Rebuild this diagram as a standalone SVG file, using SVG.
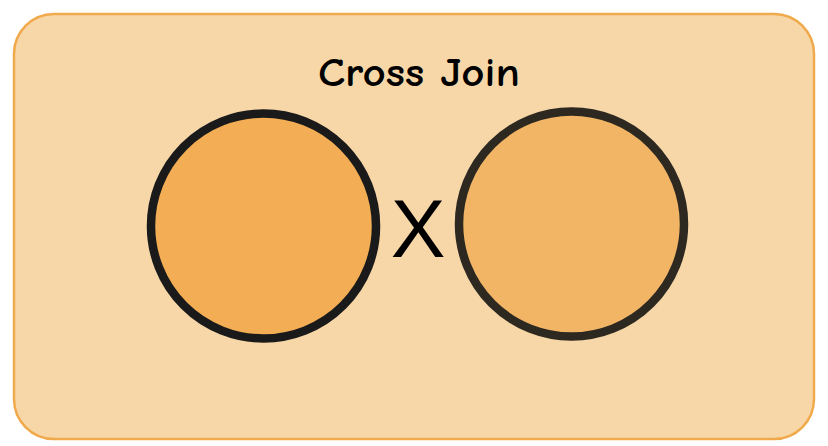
<svg xmlns="http://www.w3.org/2000/svg" width="828" height="446" viewBox="0 0 828 446">
<style>
.title{font-family:"Comic Sans MS","Comic Neue","DejaVu Sans",sans-serif;font-size:41px;font-weight:bold;fill:#000;text-anchor:middle}
.op{font-family:"Liberation Sans",Arial,sans-serif;font-size:82px;fill:#000;text-anchor:middle}
</style>
<rect width="828" height="446" fill="#fff"/>
<g id="container">
<rect x="14" y="14" width="800" height="425" rx="40" ry="40" fill="#F7D7A8" stroke="#F0AA4C" stroke-width="2.5"/>
<text class="title" x="419" y="86" textLength="202" lengthAdjust="spacingAndGlyphs">Cross Join</text>
</g>
<g id="left">
<circle cx="263.5" cy="226" r="112.5" fill="#F2AD55" stroke="#1A1A1A" stroke-width="8.5"/>
</g>
<g id="op">
<text class="op" x="418" y="257">X</text>
</g>
<g id="right">
<circle cx="571.5" cy="224" r="112.5" fill="#F2B565" stroke="#2E2920" stroke-width="8.5"/>
</g>
<g id="connectors"/>
</svg>
